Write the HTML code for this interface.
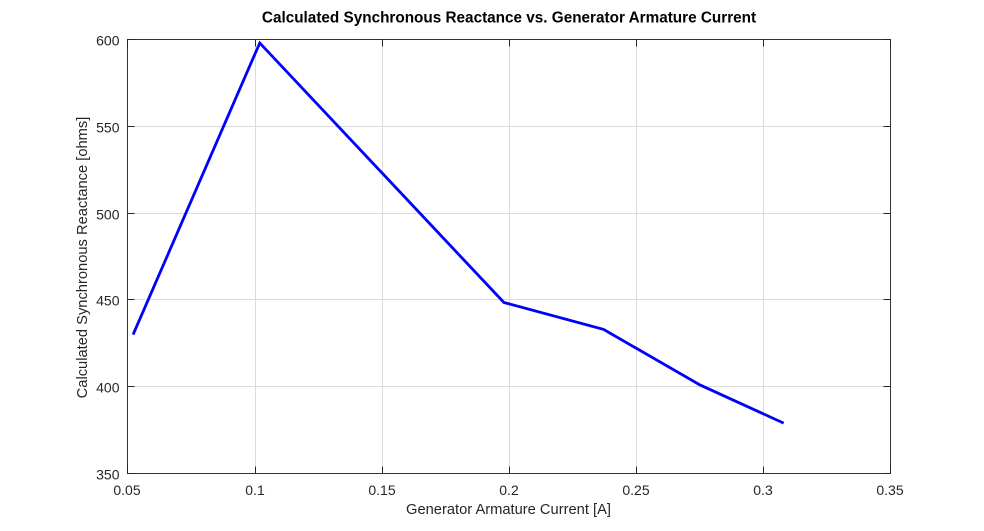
<!DOCTYPE html>
<html>
<head>
<meta charset="utf-8">
<style>
html,body{margin:0;padding:0;background:#fff;width:984px;height:531px;overflow:hidden}
svg{display:block}
text{font-family:"Liberation Sans",sans-serif}
</style>
</head>
<body>
<svg id="chart" xmlns="http://www.w3.org/2000/svg" width="984" height="531" viewBox="0 0 984 531">
<rect width="984" height="531" fill="#fff"/>
<g id="grid"></g>
<polyline id="line" fill="none" stroke="#0000ff" stroke-width="2.8" stroke-linejoin="miter"></polyline>
<rect x="127.5" y="39.5" width="763" height="434" fill="none" stroke="#333333" stroke-width="1"/>
<g id="ticks"></g>
<g id="labels"></g>
<text x="509" y="22.5" font-size="15.3" font-weight="bold" text-anchor="middle" fill="#000">Calculated Synchronous Reactance vs. Generator Armature Current</text>
<text x="508.5" y="514" font-size="14.7" text-anchor="middle" fill="#262626">Generator Armature Current [A]</text>
<text transform="translate(87 257.5) rotate(-90)" font-size="14.7" text-anchor="middle" fill="#262626">Calculated Synchronous Reactance [ohms]</text>
</svg>
<script>
const currentValues = [0.0522, 0.102, 0.198, 0.2372, 0.2751, 0.308];
const reactanceValues = [430, 598, 448.5, 433, 401, 379];
const xTicks = [0.05, 0.1, 0.15, 0.2, 0.25, 0.3, 0.35];
const yTicks = [350, 400, 450, 500, 550, 600];

const plotLeft = 127.5, plotRight = 890.5, plotTop = 39.5, plotBottom = 473.5;
const xMin = 0.05, xMax = 0.35, yMin = 350, yMax = 600;
const tickLength = 7;
const NS = 'http://www.w3.org/2000/svg';

function xScale(v) { return plotLeft + (v - xMin) / (xMax - xMin) * (plotRight - plotLeft); }
function yScale(v) { return plotBottom - (v - yMin) / (yMax - yMin) * (plotBottom - plotTop); }
function snapX(p) { return Math.round(p - 0.01) + 0.5; }
function snapY(p) { return Math.floor(p) + 0.5; }

function drawLine(parent, x1, y1, x2, y2, color) {
  const l = document.createElementNS(NS, 'line');
  l.setAttribute('x1', x1);
  l.setAttribute('y1', y1);
  l.setAttribute('x2', x2);
  l.setAttribute('y2', y2);
  l.setAttribute('stroke', color);
  l.setAttribute('stroke-width', '1');
  parent.appendChild(l);
  return l;
}

function drawText(parent, x, y, anchor, str) {
  const t = document.createElementNS(NS, 'text');
  t.setAttribute('x', x);
  t.setAttribute('y', y);
  t.setAttribute('text-anchor', anchor);
  t.setAttribute('font-size', '14');
  t.setAttribute('fill', '#262626');
  t.textContent = str;
  parent.appendChild(t);
  return t;
}

const grid = document.getElementById('grid');
const ticks = document.getElementById('ticks');
const labels = document.getElementById('labels');

xTicks.forEach(function (v) {
  const x = snapX(xScale(v));
  const g = drawLine(grid, x, plotTop, x, plotBottom, '#dbdbdb');
  
  
  const t1 = drawLine(ticks, x, plotBottom, x, plotBottom - tickLength, '#262626');
  
  
  const t2 = drawLine(ticks, x, plotTop, x, plotTop + tickLength, '#262626');
  
  
  const lab = drawText(labels, x - 0.5, 495, 'middle', String(v));
  
  
});

yTicks.forEach(function (v) {
  const y = snapY(yScale(v));
  const g = drawLine(grid, plotLeft, y, plotRight, y, '#dbdbdb');
  
  
  const t1 = drawLine(ticks, plotLeft, y, plotLeft + tickLength, y, '#262626');
  
  
  const t2 = drawLine(ticks, plotRight, y, plotRight - tickLength, y, '#262626');
  
  
  const lab = drawText(labels, 119.5, y + 6, 'end', String(v));
  
  
});

document.getElementById('line').setAttribute('points', currentValues.map(function (c, i) {
  return xScale(c).toFixed(2) + ',' + yScale(reactanceValues[i]).toFixed(2);
}).join(' '));
</script>
</body>
</html>
